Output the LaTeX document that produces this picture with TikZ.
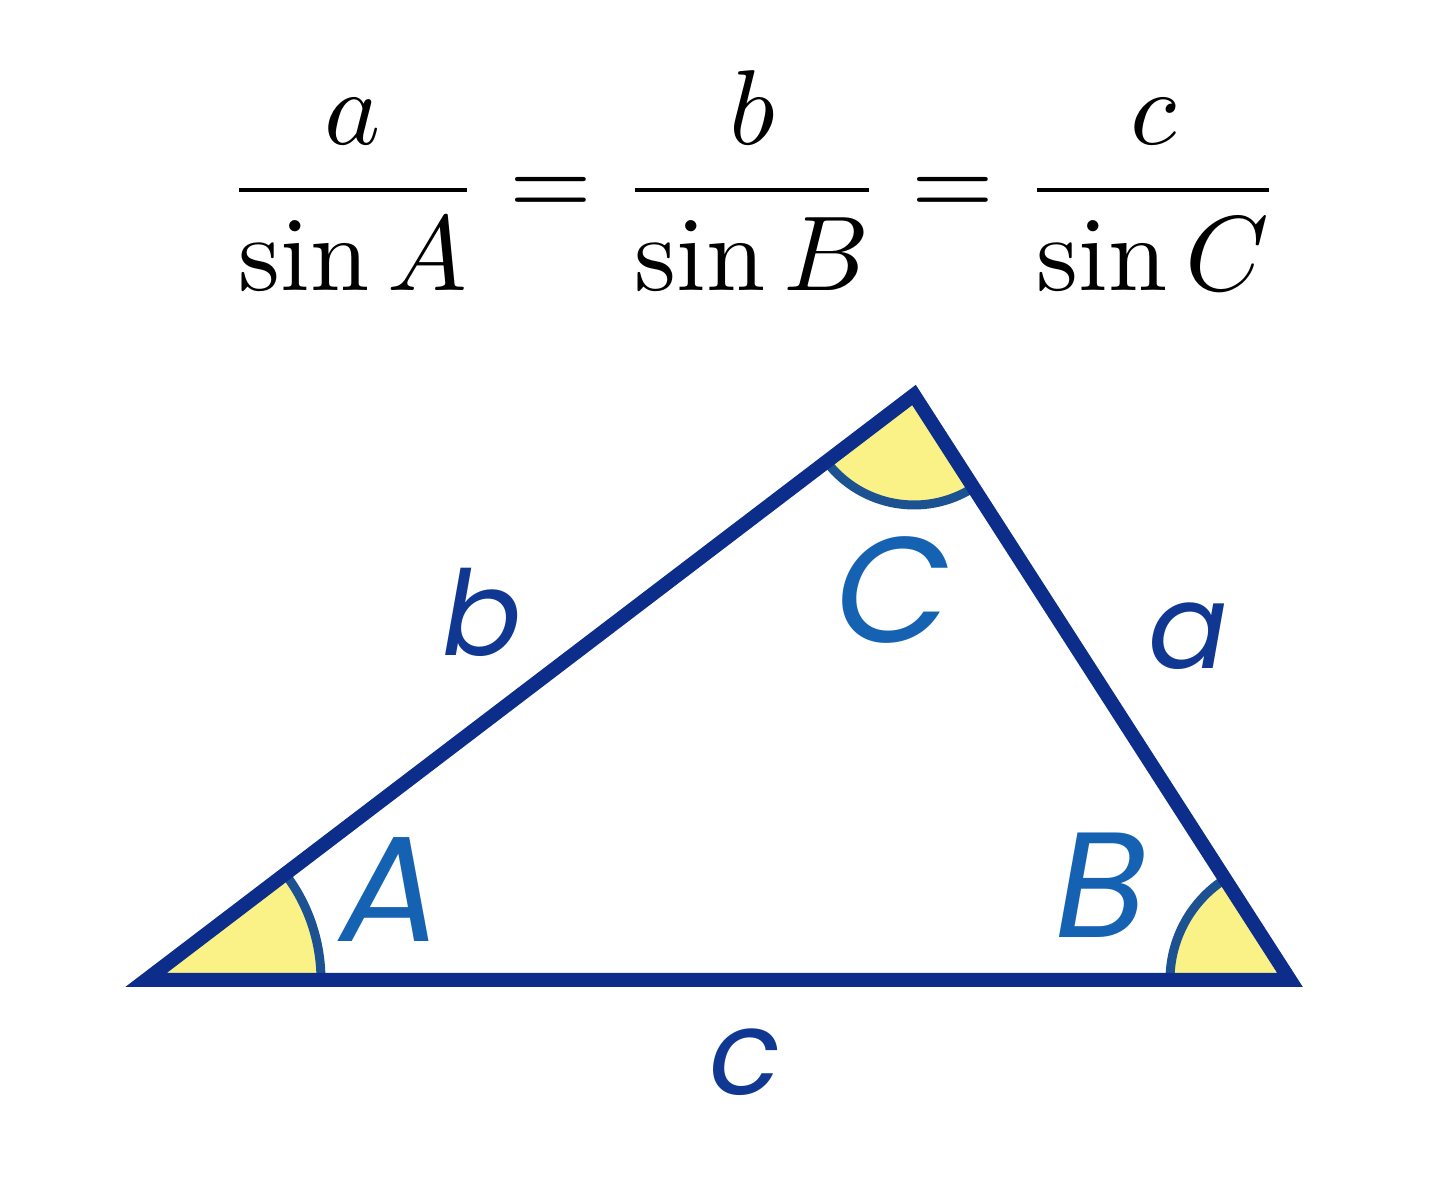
\documentclass[tikz,border=0pt]{standalone}
\usepackage{fontspec}
\newfontfamily\labfont{Poppins}
\usetikzlibrary{calc}
\definecolor{tri}{RGB}{12,45,138}
\definecolor{arcc}{RGB}{28,82,145}
\definecolor{capc}{RGB}{22,98,178}
\definecolor{sidec}{RGB}{16,56,146}
\definecolor{angfill}{RGB}{250,241,135}
\tikzset{
  sideline/.style={draw=tri,line width=14pt},
  anglearc/.style={draw=arcc,line width=9pt},
  anglefill/.style={fill=angfill},
  sidelabel/.style={text=sidec,font=\labfont\itshape\fontsize{118}{130}\selectfont,inner sep=0pt},
  anglelabel/.style={text=capc,font=\labfont\itshape\fontsize{150}{160}\selectfont,inner sep=0pt},
  formula/.style={font=\normalsize,inner sep=0pt,scale=10.65,transform shape}
}
\begin{document}
\begin{tikzpicture}[x=1pt,y=1pt]
\useasboundingbox (0,0) rectangle (1440,1178);
\coordinate (A) at (146,198);
\coordinate (B) at (1290,198);
\coordinate (C) at (914,783);
% angle sectors
\fill[anglefill] (A) -- ([shift={(0:175)}]A) arc[start angle=0,end angle=37.3,radius=175] -- cycle;
\fill[anglefill] (B) -- ([shift={(122.7:120)}]B) arc[start angle=122.7,end angle=180,radius=120] -- cycle;
\fill[anglefill] (C) -- ([shift={(217.3:110)}]C) arc[start angle=217.3,end angle=302.7,radius=110] -- cycle;
\draw[anglearc] ([shift={(0:175)}]A) arc[start angle=0,end angle=37.3,radius=175];
\draw[anglearc] ([shift={(122.7:120)}]B) arc[start angle=122.7,end angle=180,radius=120];
\draw[anglearc] ([shift={(217.3:110)}]C) arc[start angle=217.3,end angle=302.7,radius=110];
% triangle
\draw[sideline] (A) -- (B) -- (C) -- cycle;
% labels
\node[sidelabel] (lb) at (482,566) {b};
\node[sidelabel] (la) at (1188,542) {a};
\node[sidelabel] (lc) at (745,116) {c};
\node[anglelabel] (lA) at (391,288) {A};
\node[anglelabel] (lB) at (1101,293) {B};
\node[anglelabel] (lC) at (893,588) {C};
% formula
\node[formula,anchor=base] (law) at (754,961) {$\displaystyle\frac{a}{\sin A}=\frac{b}{\sin B}=\frac{c}{\sin C}$};
\end{tikzpicture}
\end{document}
